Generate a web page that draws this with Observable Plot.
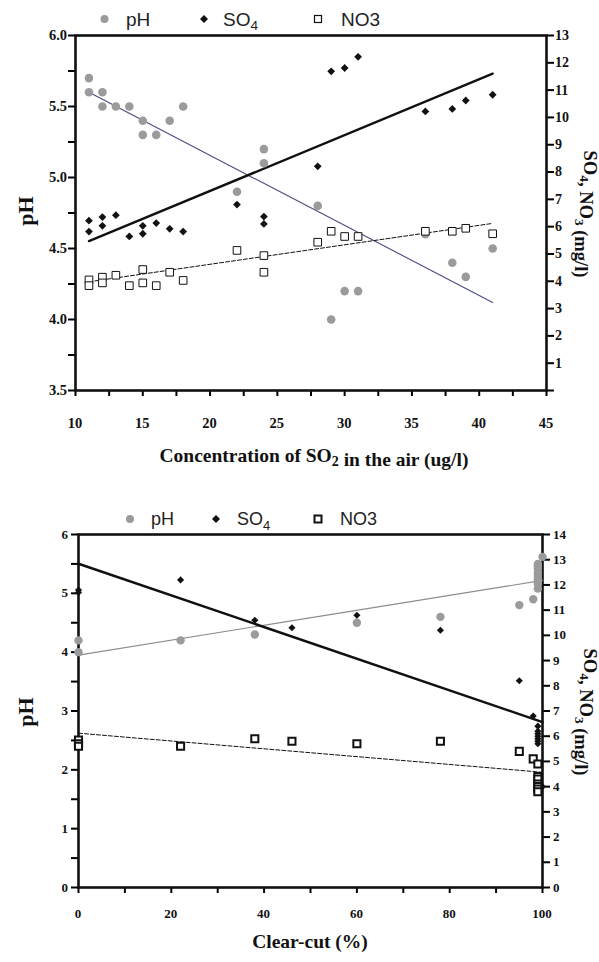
<!DOCTYPE html>
<html>
<head>
<meta charset="utf-8">
<script src="https://cdn.jsdelivr.net/npm/d3@7"></script>
<script src="https://cdn.jsdelivr.net/npm/@observablehq/plot@0.6"></script>
<style>
  body { margin: 0; background: #fff; }
  #chart { width: 599px; }
  #chart svg { display: block; }
</style>
</head>
<body>
<div id="chart"></div>
<script>
// ---------- Top panel data (x = SO2 concentration in air, ug/l) ----------
const topX   = [11, 11, 12, 12, 13, 14, 15, 15, 16, 17, 18, 22, 24, 24, 28, 29, 30, 31, 36, 38, 39, 41];
const topPH  = [5.7, 5.6, 5.6, 5.5, 5.5, 5.5, 5.4, 5.3, 5.3, 5.4, 5.5, 4.9, 5.2, 5.1, 4.8, 4.0, 4.2, 4.2, 4.6, 4.4, 4.3, 4.5];
const topSO4 = [6.22, 5.82, 6.35, 6.03, 6.42, 5.64, 6.03, 5.74, 6.13, 5.92, 5.82, 6.81, 6.37, 6.10, 8.21, 11.69, 11.81, 12.22, 10.22, 10.31, 10.62, 10.83];
const topNO3 = [4.05, 3.84, 4.15, 3.94, 4.22, 3.84, 4.43, 3.94, 3.84, 4.33, 4.03, 5.13, 4.94, 4.33, 5.43, 5.83, 5.64, 5.64, 5.83, 5.83, 5.94, 5.74];
const topFitX   = [11, 41];
const topFitPH  = [5.60, 4.12];
const topFitSO4 = [5.47, 11.6];
const topFitNO3 = [3.98, 6.12];
const topXTicks     = [10, 15, 20, 25, 30, 35, 40, 45];
const topLeftTicks  = [3.5, 4.0, 4.5, 5.0, 5.5, 6.0];
const topRightTicks = [1, 2, 3, 4, 5, 6, 7, 8, 9, 10, 11, 12, 13];

// ---------- Bottom panel data (x = clear-cut %) ----------
const botPHX  = [0, 0, 22, 38, 60, 78, 95, 98, 99, 99, 99, 99, 99, 99, 99, 99, 99, 100];
const botPH   = [4.2, 4.0, 4.2, 4.3, 4.5, 4.6, 4.8, 4.9, 5.08, 5.16, 5.2, 5.25, 5.3, 5.35, 5.42, 5.46, 5.5, 5.62];
const botSO4X = [0, 0, 22, 38, 46, 60, 78, 95, 98, 99, 99, 99, 99, 99, 99, 99, 100];
const botSO4  = [11.8, 11.7, 12.2, 10.6, 10.3, 10.8, 10.2, 8.2, 6.8, 6.4, 6.2, 6.1, 6.0, 5.9, 5.8, 5.7, 4.0];
const botNO3X = [0, 0, 0, 22, 38, 46, 60, 78, 95, 98, 99, 99, 99, 99, 99, 99, 99];
const botNO3  = [5.85, 5.7, 5.6, 5.6, 5.9, 5.8, 5.7, 5.8, 5.4, 5.1, 4.9, 4.4, 4.3, 4.1, 4.0, 3.9, 3.8];
const botFitX   = [0, 100];
const botFitPH  = [3.95, 5.22];
const botFitSO4 = [12.84, 6.56];
const botFitNO3 = [6.12, 4.57];
const botXTicks     = [0, 20, 40, 60, 80, 100];
const botLeftTicks  = [0, 1, 2, 3, 4, 5, 6];
const botRightTicks = [0, 1, 2, 3, 4, 5, 6, 7, 8, 9, 10, 11, 12, 13, 14];

// ---------- shared styling ----------
const SERIF = "Liberation Serif";
const SANS = "Liberation Sans";
const INK = "#111";
const GREY = "#9b9b9b";
const TL = {fontFamily: SERIF, fontWeight: 700, fill: INK};

function richText(sel, parts) {
  parts.forEach(([s, sub]) => {
    if (sub) {
      sel.append("tspan").attr("font-size", "0.72em").attr("dy", "0.32em").text(s);
      sel.append("tspan").attr("dy", "-0.23em").text("");
    } else {
      sel.append("tspan").text(s);
    }
  });
}

function addLegend(svg, cy, pos, fontSize, sqStroke) {
  const g = svg.append("g").attr("font-family", SANS).attr("font-size", fontSize)
    .attr("fill", "#222").attr("font-weight", "normal").attr("text-anchor", "start");
  g.append("circle").attr("cx", pos.circle).attr("cy", cy).attr("r", 4).attr("fill", GREY);
  g.append("text").attr("x", pos.t1).attr("y", cy).attr("dy", "0.36em").text("pH");
  const d = 4;
  g.append("path").attr("d", `M${pos.diamond},${cy - d}L${pos.diamond + d},${cy}L${pos.diamond},${cy + d}L${pos.diamond - d},${cy}Z`).attr("fill", INK);
  const t2 = g.append("text").attr("x", pos.t2).attr("y", cy).attr("dy", "0.36em");
  richText(t2, [["SO"], ["4", true]]);
  const s = 7;
  g.append("rect").attr("x", pos.square - s / 2).attr("y", cy - s / 2).attr("width", s).attr("height", s)
    .attr("fill", "#fff").attr("stroke", INK).attr("stroke-width", sqStroke);
  g.append("text").attr("x", pos.t3).attr("y", cy).attr("dy", "0.36em").text("NO3");
}

function addTitles(svg, o) {
  const g = svg.append("g").attr("font-family", SERIF).attr("font-weight", "bold").attr("fill", INK);
  g.append("text").attr("transform", `translate(${o.phX},${o.phY}) rotate(-90)`)
    .attr("text-anchor", "middle").attr("font-size", 22).text("pH");
  const r = g.append("text").attr("transform", `translate(${o.rX},${o.rY}) rotate(90)`)
    .attr("text-anchor", "middle").attr("font-size", 18.5);
  richText(r, [["SO"], ["4", true], [", NO"], ["3", true], [" (mg/l)"]]);
  const x = g.append("text").attr("x", o.xX).attr("y", o.xY).attr("text-anchor", "middle").attr("font-size", 19.5);
  richText(x, o.xParts);
}

// tick labels drawn as our own texts positioned through the Plot scales
function addTickLabels(plotSvg, o) {
  const xs = plotSvg.scale("x"), ys = plotSvg.scale("y");
  const g = d3.select(plotSvg).append("g").attr("font-family", SERIF).attr("font-weight", "bold")
    .attr("font-size", o.size).attr("fill", INK);
  o.xTicks.forEach(t => g.append("text").attr("x", xs.apply(t)).attr("y", o.xY).attr("text-anchor", "middle").text(String(t)));
  o.leftTicks.forEach(t => g.append("text").attr("x", o.leftX).attr("y", ys.apply(t)).attr("dy", "0.35em").attr("text-anchor", "end").text(o.leftFmt(t)));
  o.rightTicks.forEach(t => g.append("text").attr("x", o.rightX).attr("y", ys.apply(o.map(t))).attr("dy", "0.35em").attr("text-anchor", "start").attr("font-size", o.rsize).text(String(t)));
}

const noLabel = () => "";

// ---------- top panel ----------
const mapT = v => 3.5 + v * 2.5 / 13;
const topPts = topX.map((x, i) => ({x, ph: topPH[i], so4: topSO4[i], no3: topNO3[i]}));
const topFit = topFitX.map((x, i) => ({x, ph: topFitPH[i], so4: topFitSO4[i], no3: topFitNO3[i]}));

const topPlot = Plot.plot({
  width: 599, height: 480,
  marginTop: 35, marginBottom: 90, marginLeft: 75, marginRight: 53,
  x: {domain: [10, 45]},
  y: {domain: [3.5, 6]},
  style: {background: "#fff", overflow: "visible"},
  marks: [
    Plot.axisX({ticks: d3.range(10, 45.01, 2.5), tickFormat: noLabel, tickSize: 6, strokeWidth: 2, label: null}),
    Plot.axisY({ticks: d3.range(3.5, 6.01, 0.25), tickFormat: noLabel, tickSize: 7, strokeWidth: 2, label: null}),
    Plot.axisY({anchor: "right", ticks: [0, ...topRightTicks].map(mapT), tickFormat: noLabel, tickSize: 7, strokeWidth: 2, label: null}),
    Plot.frame({stroke: INK, strokeWidth: 2.6}),
    Plot.line(topFit, {x: "x", y: "ph", stroke: "#4a4a84", strokeWidth: 1.1}),
    Plot.line(topFit, {x: "x", y: d => mapT(d.so4), stroke: INK, strokeWidth: 2.4}),
    Plot.line(topFit, {x: "x", y: d => mapT(d.no3), stroke: INK, strokeWidth: 1, strokeDasharray: "4,2"}),
    Plot.dot(topPts, {x: "x", y: "ph", r: 4.3, fill: GREY, stroke: "none"}),
    Plot.dot(topPts, {x: "x", y: d => mapT(d.so4), symbol: "diamond2", r: 3.5, fill: INK, stroke: "none"}),
    Plot.dot(topPts, {x: "x", y: d => mapT(d.no3), symbol: "square", r: 4.3, fill: "#fff", stroke: INK, strokeWidth: 1})
  ]
});

// ---------- bottom panel ----------
const mapB = v => v * 6 / 14;
const bPH = botPHX.map((x, i) => ({x, v: botPH[i]}));
const bSO4 = botSO4X.map((x, i) => ({x, v: botSO4[i]}));
const bNO3 = botNO3X.map((x, i) => ({x, v: botNO3[i]}));
const botFit = botFitX.map((x, i) => ({x, ph: botFitPH[i], so4: botFitSO4[i], no3: botFitNO3[i]}));

const botPlot = Plot.plot({
  width: 599, height: 482,
  marginTop: 54, marginBottom: 75, marginLeft: 78, marginRight: 57,
  x: {domain: [0, 100]},
  y: {domain: [0, 6]},
  style: {background: "#fff", overflow: "visible"},
  marks: [
    Plot.axisX({ticks: d3.range(0, 100.01, 10), tickFormat: noLabel, tickSize: 6, strokeWidth: 2, label: null}),
    Plot.axisY({ticks: d3.range(0, 6.01, 0.5), tickFormat: noLabel, tickSize: 7, strokeWidth: 2, label: null}),
    Plot.axisY({anchor: "right", ticks: botRightTicks.map(mapB), tickFormat: noLabel, tickSize: 7, strokeWidth: 2, label: null}),
    Plot.frame({stroke: INK, strokeWidth: 2.6}),
    Plot.line(botFit, {x: "x", y: "ph", stroke: "#8c8c8c", strokeWidth: 1.1}),
    Plot.line(botFit, {x: "x", y: d => mapB(d.so4), stroke: INK, strokeWidth: 2.4}),
    Plot.line(botFit, {x: "x", y: d => mapB(d.no3), stroke: INK, strokeWidth: 1, strokeDasharray: "4,2"}),
    Plot.dot(bPH, {x: "x", y: "v", r: 4.2, fill: GREY, stroke: "none"}),
    Plot.dot(bSO4, {x: "x", y: d => mapB(d.v), symbol: "diamond2", r: 3.2, fill: INK, stroke: "none"}),
    Plot.dot(bNO3, {x: "x", y: d => mapB(d.v), symbol: "square", r: 4.0, fill: "#fff", stroke: INK, strokeWidth: 2})
  ]
});

// ---------- decorations: tick labels, legends and axis titles ----------
const topSvg = d3.select(topPlot);
addTickLabels(topPlot, {size: 14.5, rsize: 14, xTicks: topXTicks, xY: 428, leftTicks: topLeftTicks, leftX: 67, leftFmt: t => t.toFixed(1),
  rightTicks: topRightTicks, map: mapT, rightX: 555});
addLegend(topSvg, 19, {circle: 104.5, t1: 126, diamond: 204, t2: 223, square: 318, t3: 341}, 19, 1.2);
addTitles(topSvg, {phX: 33, phY: 211, rX: 584, rY: 214, xX: 314, xY: 462,
  xParts: [["Concentration of SO"], ["2", true], [" in the air (ug/l)"]]});

const botSvg = d3.select(botPlot);
addTickLabels(botPlot, {size: 13, rsize: 13, xTicks: botXTicks, xY: 438, leftTicks: botLeftTicks, leftX: 68, leftFmt: t => String(t),
  rightTicks: botRightTicks, map: mapB, rightX: 553});
addLegend(botSvg, 39, {circle: 130, t1: 151, diamond: 216, t2: 237, square: 318, t3: 340}, 18, 2);
addTitles(botSvg, {phX: 33, phY: 232, rX: 584, rY: 232, xX: 310, xY: 468,
  xParts: [["Clear-cut (%)"]]});

const chart = document.getElementById("chart");
chart.appendChild(topPlot);
chart.appendChild(botPlot);
</script>
</body>
</html>
